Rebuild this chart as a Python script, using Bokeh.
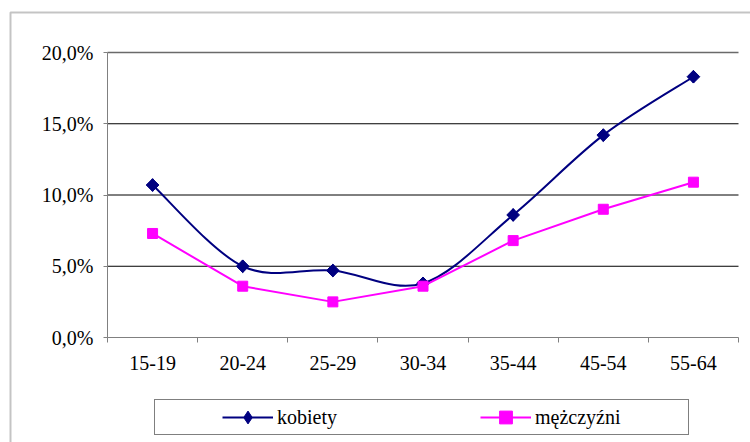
import numpy as np
from bokeh.plotting import figure
from bokeh.models import (Range1d, FixedTicker, Legend, LegendItem, BoxAnnotation,
                          ColumnDataSource)
from bokeh.core.properties import value
from bokeh.embed import file_html
from bokeh.resources import INLINE

# ---- data ----
categories = ["15-19", "20-24", "25-29", "30-34", "35-44", "45-54", "55-64"]
kobiety = [10.7, 5.0, 4.7, 3.8, 8.6, 14.2, 18.3]
mezczyzni = [7.3, 3.6, 2.5, 3.6, 6.8, 9.0, 10.9]
y_ticks = [0, 5, 10, 15, 20]
y_tick_labels = ["0,0%", "5,0%", "10,0%", "15,0%", "20,0%"]
series_names = ["kobiety", "mężczyźni"]

FONT = "Liberation Serif"
FS = "20px"
NAVY = "#000080"
MAGENTA = "#FF00FF"

W, H = 750, 442
# plot-area placement inside the canvas (pixels)
PL, PR, PT, PB = 107, 738, 52, 337

n = len(categories)
x = np.arange(n) + 0.5
ymin, ymax = y_ticks[0], y_ticks[-1]
sx = (PR - PL) / n
sy = (PB - PT) / (ymax - ymin)

p = figure(width=W, height=H, output_backend="svg", toolbar_location=None,
           x_range=Range1d(0 - PL / sx, n + (W - PR) / sx),
           y_range=Range1d(ymin - (H - PB) / sy, ymax + PT / sy),
           min_border_left=0, min_border_right=0, min_border_top=0,
           min_border_bottom=0)
p.outline_line_color = None
p.background_fill_color = "white"
p.border_fill_color = "white"
p.grid.visible = False

# gridlines limited to the category span
p.segment(x0=0, x1=n, y0=y_ticks[1:-1], y1=y_ticks[1:-1], line_color="black",
          line_width=1)
p.segment(x0=0, x1=n, y0=y_ticks[-1], y1=y_ticks[-1], line_color="#6a6a6a",
          line_width=1.5)

# y axis
ya = p.yaxis[0]
ya.fixed_location = 0
ya.bounds = (ymin, ymax)
ya.ticker = FixedTicker(ticks=y_ticks)
ya.major_label_overrides = {t: l for t, l in zip(y_ticks, y_tick_labels)}
ya.axis_line_color = "#808080"
ya.major_tick_line_color = "#808080"
ya.major_tick_out = 4
ya.major_tick_in = 0
ya.minor_tick_out = 0
ya.minor_tick_in = 0
ya.major_label_standoff = 10
ya.major_label_text_font = FONT
ya.major_label_text_font_size = FS
ya.major_label_text_color = "black"

# x axis
xa = p.xaxis[0]
xa.fixed_location = ymin
xa.bounds = (0, n)
xa.ticker = FixedTicker(ticks=list(x), minor_ticks=list(range(n + 1)))
xa.major_label_overrides = {float(xi): c for xi, c in zip(x, categories)}
xa.axis_line_color = "#808080"
xa.major_tick_out = 0
xa.major_tick_in = 0
xa.minor_tick_line_color = "#808080"
xa.minor_tick_out = 5
xa.minor_tick_in = 0
xa.major_label_standoff = 13
xa.major_label_text_font = FONT
xa.major_label_text_font_size = FS
xa.major_label_text_color = "black"

# kobiety: smoothed curve (Bezier segments through the data points)
ys = np.array(kobiety, dtype=float)
yprev = np.r_[ys[0], ys[:-1]]
ynext = np.r_[ys[1:], ys[-1]]
xprev = np.r_[x[0], x[:-1]]
xnext = np.r_[x[1:], x[-1]]
bez = ColumnDataSource(dict(
    x0=x[:-1], y0=ys[:-1], x1=x[1:], y1=ys[1:],
    cx0=x[:-1] + (xnext[:-1] - xprev[:-1]) / 6.0,
    cy0=ys[:-1] + (ynext[:-1] - yprev[:-1]) / 6.0,
    cx1=x[1:] - (xnext[1:] - xprev[1:]) / 6.0,
    cy1=ys[1:] - (ynext[1:] - yprev[1:]) / 6.0,
))
k_curve = p.bezier(x0="x0", y0="y0", x1="x1", y1="y1", cx0="cx0", cy0="cy0",
                   cx1="cx1", cy1="cy1", source=bez, line_color=NAVY, line_width=2)
k_src = ColumnDataSource(dict(x=x, y=kobiety))
# diamond symbol (also used by the legend), covered by the rotated squares below
k_diam = p.scatter(x="x", y="y", source=k_src, marker="diamond", size=12.5,
                   fill_color=NAVY, line_color=NAVY)
k_pts = p.scatter(x="x", y="y", source=k_src, marker="square", angle=np.pi / 4,
                  size=9, fill_color=NAVY, line_color=NAVY)

# mezczyzni: straight line
m_line = p.line(x=x, y=mezczyzni, line_color=MAGENTA, line_width=2)
m_pts = p.scatter(x=x, y=mezczyzni, marker="square", size=10,
                  fill_color=MAGENTA, line_color=MAGENTA)

# outer chart border (left and top edges visible, rest runs off the page)
p.add_layout(BoxAnnotation(left=10, right=W + 40, top=12, bottom=H + 40,
                           left_units="canvas", right_units="canvas",
                           top_units="canvas", bottom_units="canvas",
                           fill_alpha=0, line_color="#3a3a3a", line_width=2))

# boxed legend; blank items only pad the box horizontally
blank = lambda: LegendItem(label=value(" "), renderers=[])
legend = Legend(items=[blank(),
                       LegendItem(label=value(series_names[0]),
                                  renderers=[k_curve, k_diam]),
                       blank(), blank(),
                       LegendItem(label=value(series_names[1]), renderers=[m_line, m_pts]),
                       blank()],
                orientation="horizontal", location=(154, H - 435),
                padding=1, margin=0, spacing=11, glyph_width=51, glyph_height=32,
                label_standoff=4, label_width=0, label_height=32,
                border_line_color="black", border_line_width=1,
                background_fill_color="white",
                label_text_font=FONT, label_text_font_size=FS,
                label_text_color="black")
p.add_layout(legend, "center")

open("out.html", "w").write(file_html(p, INLINE))
